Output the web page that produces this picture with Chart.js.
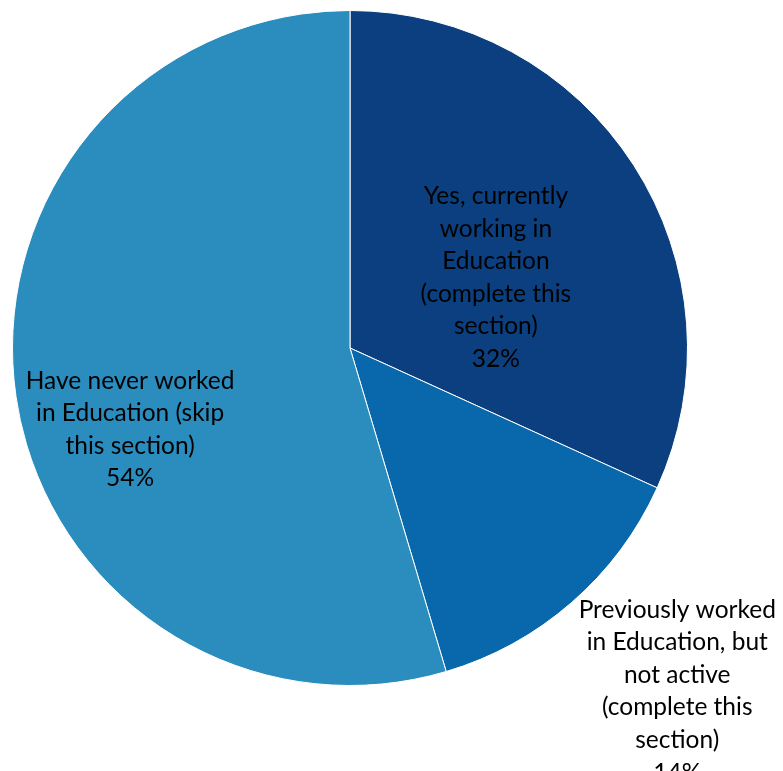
<!DOCTYPE html>
<html>
<head>
<meta charset="utf-8">
<script src="https://cdn.jsdelivr.net/npm/chart.js@4.4.0/dist/chart.umd.min.js"></script>
<style>
  body { margin: 0; background: #fff; }
</style>
</head>
<body>
<canvas id="myChart" width="783" height="771"></canvas>
<script>
const categories = [
    ['Yes, currently', 'working in', 'Education', '(complete this', 'section)'],
    ['Previously worked', 'in Education, but', 'not active', '(complete this', 'section)'],
    ['Have never worked', 'in Education (skip', 'this section)']
];
const values = [31.8, 13.6, 54.6];
const percentLabels = ['32%', '14%', '54%'];
const colors = ['#0b3f7f', '#0868ab', '#2b8cbe'];

// label anchor: angle shift from slice middle (deg), distance as share of radius
const labelShift = [7.0, -2.6, -12.1];
const labelDist = [0.48, 1.405, 0.695];

const pieLabels = {
    id: 'pieLabels',
    afterDatasetsDraw(chart) {
        const ctx = chart.ctx;
        const meta = chart.getDatasetMeta(0);
        ctx.save();
        ctx.font = '24.5px Lato';
        ctx.fillStyle = '#000';
        ctx.textAlign = 'center';
        ctx.textBaseline = 'middle';
        const lh = 32.6;
        meta.data.forEach((arc, i) => {
            const mid = (arc.startAngle + arc.endAngle) / 2 + labelShift[i] * Math.PI / 180;
            const r = arc.outerRadius * labelDist[i];
            const cx = arc.x + Math.cos(mid) * r;
            const cy = arc.y + Math.sin(mid) * r;
            const lines = categories[i].concat([percentLabels[i]]);
            const top = cy - (lines.length - 1) * lh / 2;
            lines.forEach((t, j) => ctx.fillText(t, cx, top + j * lh));
        });
        ctx.restore();
    }
};

const ctx = document.getElementById('myChart').getContext('2d');
const myChart = new Chart(ctx, {
    type: 'pie',
    data: {
        labels: categories.map(c => c.join(' ')),
        datasets: [{
            data: values,
            backgroundColor: colors,
            borderColor: '#ffffff',
            borderWidth: 1
        }]
    },
    options: {
        responsive: false,
        animation: false,
        layout: {
            padding: { left: 12, right: 95, top: 10, bottom: 85 }
        },
        plugins: {
            legend: { display: false },
            tooltip: { enabled: false }
        }
    },
    plugins: [pieLabels]
});
</script>
</body>
</html>
